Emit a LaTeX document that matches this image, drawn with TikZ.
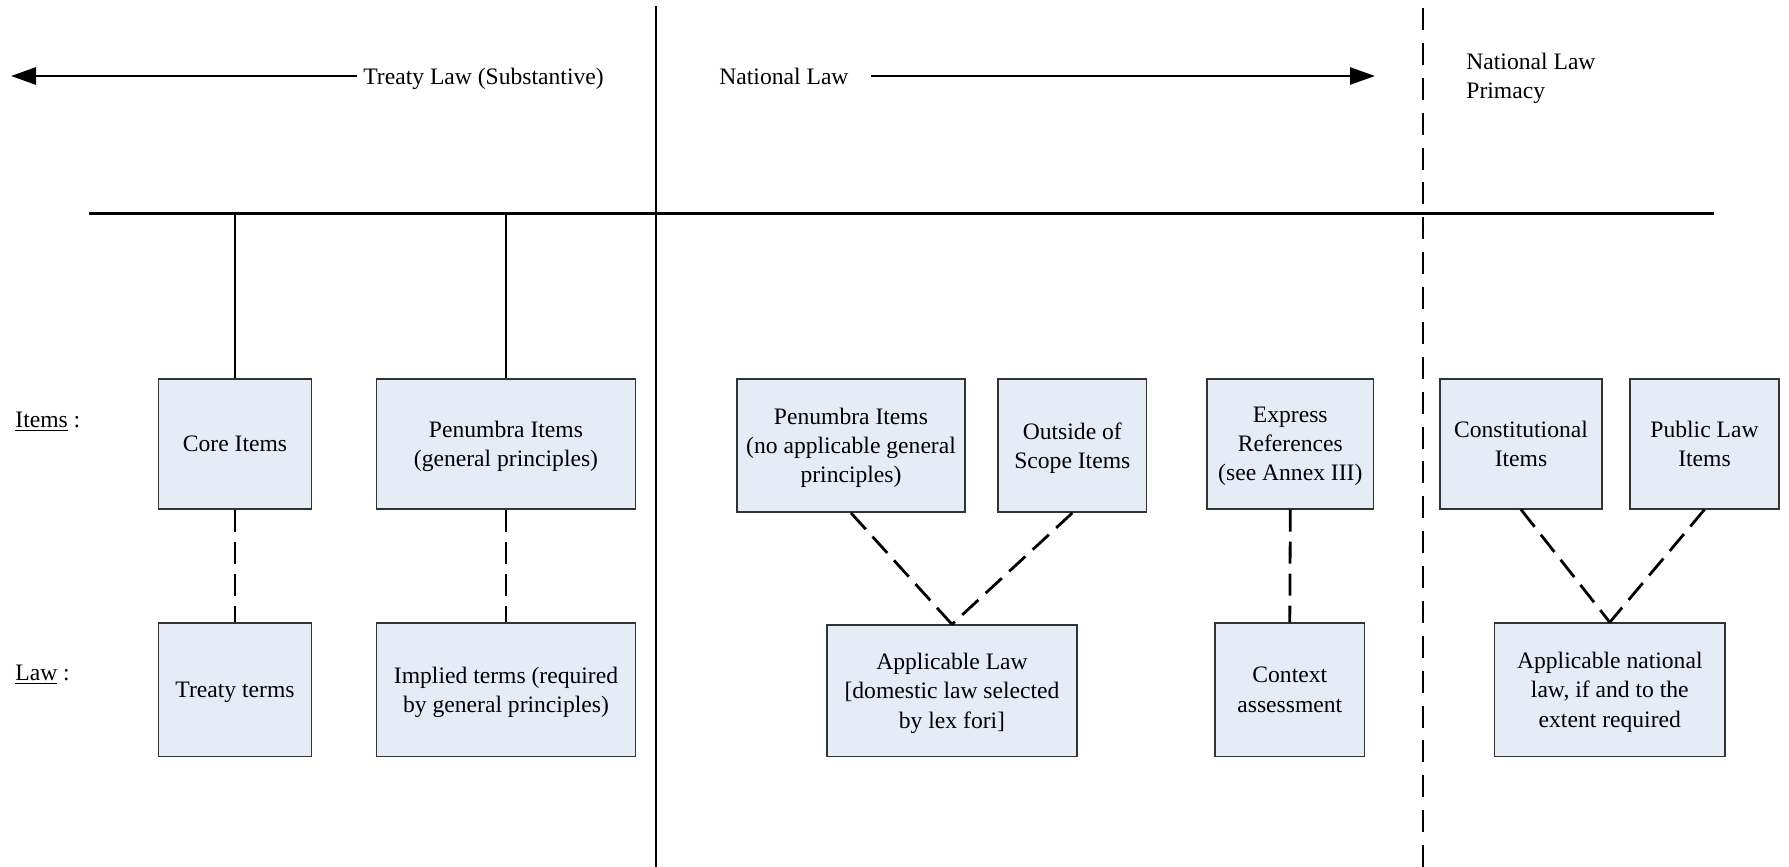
\documentclass[tikz,border=0pt]{standalone}
\usepackage{fontspec}
\setmainfont{Liberation Serif}
\usetikzlibrary{arrows.meta}

\definecolor{boxfill}{HTML}{E6ECF6}
\definecolor{boxline}{HTML}{333333}

\begin{document}
\begin{tikzpicture}[
  x=0.5pt, y=-0.5pt,
  every node/.style={font=\fontsize{11.8pt}{14.6pt}\selectfont},
  itembox/.style={draw=boxline, line width=0.75pt, fill=boxfill,
    align=center, inner sep=0pt, text depth=0pt},
  heading/.style={inner ysep=0pt, text height=8.1pt, text depth=0pt},
  mainline/.style={line width=1.4pt},
  bigarrow/.style={mainline, -{Triangle[length=12.5pt,width=8.5pt]}},
  linkdash/.style={line width=1.4pt, dash pattern=on 11pt off 5pt},
  divdash/.style={line width=1.1pt, dash pattern=on 11pt off 6.44pt},
]
\useasboundingbox (0,0) rectangle (1789,867);
\fill[white] (0,0) rectangle (1789,867);

% frame lines
\coordinate (hl-w) at (89,213.4);
\coordinate (hl-e) at (1714,213.4);
\coordinate (div1-top) at (656,6);
\coordinate (div1-bot) at (656,867);
\coordinate (div2-top) at (1423,8);
\coordinate (div2-bot) at (1423,867);
\coordinate (larrow-tip) at (11,76);
\coordinate (rarrow-tip) at (1375,76);

\draw[mainline] (hl-w) -- (hl-e);
\draw[mainline] (div1-top) -- (div1-bot);
\draw[divdash] (div2-top) -- (div2-bot);

% headings
\node[heading, anchor=west, inner xsep=3pt] (treatylaw) at (357,76) {Treaty Law (Substantive)};
\node[heading, anchor=west, inner xsep=11pt] (natlaw) at (697,76) {National Law};
\node[anchor=west, align=left, inner sep=0pt] (primacy) at (1466,78.5) {National Law\\Primacy};
\draw[bigarrow] (treatylaw.west) -- (larrow-tip);
\draw[bigarrow] (natlaw.east) -- (rarrow-tip);

% row labels
\node[anchor=west, inner sep=0pt] (itemslbl) at (15,422) {\underline{Items} :};
\node[anchor=west, inner sep=0pt] (lawlbl) at (15,675) {\underline{Law} :};

% item boxes
\node[itembox, minimum width=76.5pt, minimum height=65pt] (core) at (235,443.8) {Core Items};
\node[itembox, minimum width=129.5pt, minimum height=65pt] (pen1) at (506,443.8) {Penumbra Items\\(general principles)};
\node[itembox, minimum width=114pt, minimum height=66.7pt] (pen2) at (851,445.5) {Penumbra Items\\(no applicable general\\principles)};
\node[itembox, minimum width=74.3pt, minimum height=66.7pt] (outside) at (1072.3,445.5) {Outside of\\Scope Items};
\node[itembox, minimum width=83.3pt, minimum height=65pt] (express) at (1290.3,443.8) {Express\\References\\(see Annex III)};
\node[itembox, minimum width=81pt, minimum height=65pt] (const) at (1521,443.8) {Constitutional\\Items};
\node[itembox, minimum width=74.3pt, minimum height=65pt] (public) at (1704.5,443.8) {Public Law\\Items};

% law boxes
\node[itembox, minimum width=76.5pt, minimum height=66.7pt] (treaty) at (235,689.7) {Treaty terms};
\node[itembox, minimum width=129.5pt, minimum height=66.7pt] (implied) at (506,689.7) {Implied terms (required\\by general principles)};
\node[itembox, minimum width=125pt, minimum height=65.7pt] (applaw) at (952,690.8) {Applicable Law\\{[}domestic law selected\\by lex fori{]}};
\node[itembox, minimum width=74.8pt, minimum height=66.7pt] (context) at (1289.8,689.7) {Context\\assessment};
\node[itembox, minimum width=115.3pt, minimum height=66.7pt] (appnat) at (1609.8,689.7) {Applicable national\\law, if and to the\\extent required};

% stems to the top line
\draw[mainline] (core.north) -- (core.north |- hl-w);
\draw[mainline] (pen1.north) -- (pen1.north |- hl-w);

% dashed links between items and law
\draw[linkdash] (core.south) -- (treaty.north);
\draw[linkdash] (pen1.south) -- (implied.north);
\draw[linkdash] (pen2.south) -- (applaw.north);
\draw[linkdash] (outside.south) -- (applaw.north);
\draw[linkdash] (express.south) -- (context.north);
\draw[linkdash] (const.south) -- (appnat.north);
\draw[linkdash] (public.south) -- (appnat.north);
\end{tikzpicture}
\end{document}
